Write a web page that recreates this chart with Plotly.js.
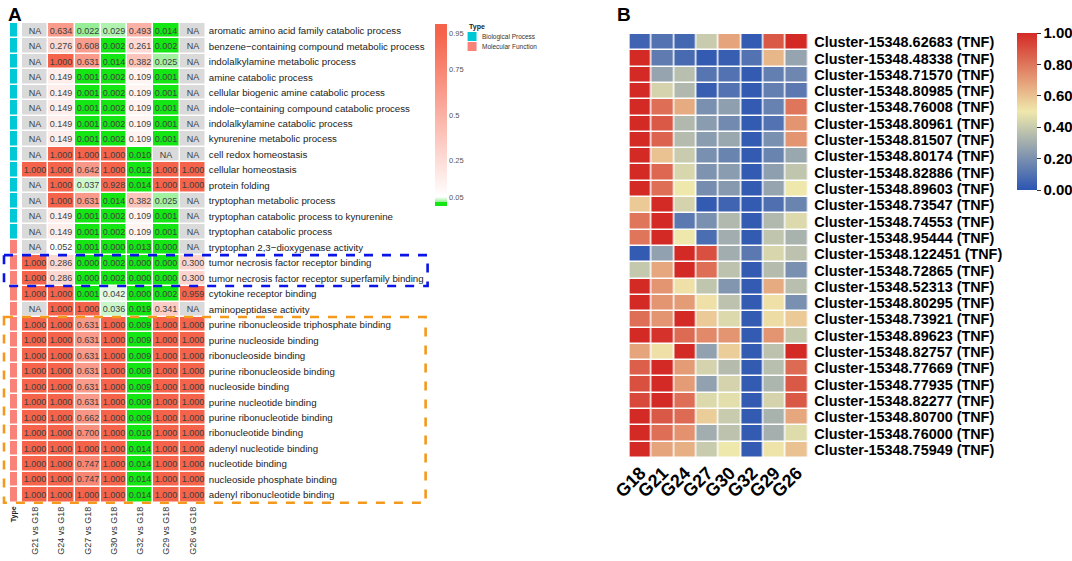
<!DOCTYPE html>
<html>
<head>
<meta charset="utf-8">
<script src="https://cdn.plot.ly/plotly-3.0.1.min.js"></script>
<style>html,body{margin:0;padding:0;background:#fff;}#chart{width:1072px;height:561px;}</style>
</head>
<body>
<div id="chart"></div>
<script>
// ---------- Panel A data ----------
const termsA = [
  "aromatic amino acid family catabolic process",
  "benzene−containing compound metabolic process",
  "indolalkylamine metabolic process",
  "amine catabolic process",
  "cellular biogenic amine catabolic process",
  "indole−containing compound catabolic process",
  "indolalkylamine catabolic process",
  "kynurenine metabolic process",
  "cell redox homeostasis",
  "cellular homeostasis",
  "protein folding",
  "tryptophan metabolic process",
  "tryptophan catabolic process to kynurenine",
  "tryptophan catabolic process",
  "tryptophan 2,3−dioxygenase activity",
  "tumor necrosis factor receptor binding",
  "tumor necrosis factor receptor superfamily binding",
  "cytokine receptor binding",
  "aminopeptidase activity",
  "purine ribonucleoside triphosphate binding",
  "purine nucleoside binding",
  "ribonucleoside binding",
  "purine ribonucleoside binding",
  "nucleoside binding",
  "purine nucleotide binding",
  "purine ribonucleotide binding",
  "ribonucleotide binding",
  "adenyl nucleotide binding",
  "nucleotide binding",
  "nucleoside phosphate binding",
  "adenyl ribonucleotide binding"
];
// 0 = Biological Process, 1 = Molecular Function
const typeA = [0,0,0,0,0,0,0,0,0,0,0,0,0,0,1,1,1,1,1,1,1,1,1,1,1,1,1,1,1,1,1];
const comparisonsA = ["G21 vs G18","G24 vs G18","G27 vs G18","G30 vs G18","G32 vs G18","G29 vs G18","G26 vs G18"];
const N = null;
const G21vsG18 = [N,N,N,N,N,N,N,N,N,1.000,N,N,N,N,N,1.000,1.000,1.000,N,1,1,1,1,1,1,1,1,1,1,1,1];
const G24vsG18 = [0.634,0.276,1.000,0.149,0.149,0.149,0.149,0.149,1.000,1.000,1.000,1.000,0.149,0.149,0.052,0.286,0.286,1.000,1.000,1,1,1,1,1,1,1,1,1,1,1,1];
const G27vsG18 = [0.022,0.608,0.631,0.001,0.001,0.001,0.001,0.001,1.000,0.642,0.037,0.631,0.001,0.001,0.001,0.000,0.000,0.001,1.000,0.631,0.631,0.631,0.631,0.631,0.631,0.662,0.700,1.000,0.747,0.747,1.000];
const G30vsG18 = [0.029,0.002,0.014,0.002,0.002,0.002,0.002,0.002,1.000,1.000,0.928,0.014,0.002,0.002,0.000,0.002,0.002,0.042,0.036,1,1,1,1,1,1,1,1,1,1,1,1];
const G32vsG18 = [0.493,0.261,0.382,0.109,0.109,0.109,0.109,0.109,0.010,0.012,0.014,0.382,0.109,0.109,0.013,0.000,0.000,0.000,0.019,0.009,0.009,0.009,0.009,0.009,0.009,0.009,0.010,0.014,0.014,0.014,0.014];
const G29vsG18 = [0.014,0.002,0.025,0.001,0.001,0.001,0.001,0.001,N,1.000,1.000,0.025,0.001,0.001,0.000,0.000,0.000,0.002,0.341,1,1,1,1,1,1,1,1,1,1,1,1];
const G26vsG18 = [N,N,N,N,N,N,N,N,N,1.000,1.000,N,N,N,N,0.300,0.300,0.959,N,1,1,1,1,1,1,1,1,1,1,1,1];
const colsA = [G21vsG18,G24vsG18,G27vsG18,G30vsG18,G32vsG18,G29vsG18,G26vsG18];
const colorTicksA = [0.05,0.25,0.5,0.75,0.95];
const colorTickTextA = ["0.05","0.25","0.5","0.75","0.95"];

// ---------- Panel B data ----------
const clustersB = [
  "Cluster-15348.62683 (TNF)","Cluster-15348.48338 (TNF)","Cluster-15348.71570 (TNF)","Cluster-15348.80985 (TNF)",
  "Cluster-15348.76008 (TNF)","Cluster-15348.80961 (TNF)","Cluster-15348.81507 (TNF)","Cluster-15348.80174 (TNF)",
  "Cluster-15348.82886 (TNF)","Cluster-15348.89603 (TNF)","Cluster-15348.73547 (TNF)","Cluster-15348.74553 (TNF)",
  "Cluster-15348.95444 (TNF)","Cluster-15348.122451 (TNF)","Cluster-15348.72865 (TNF)","Cluster-15348.52313 (TNF)",
  "Cluster-15348.80295 (TNF)","Cluster-15348.73921 (TNF)","Cluster-15348.89623 (TNF)","Cluster-15348.82757 (TNF)",
  "Cluster-15348.77669 (TNF)","Cluster-15348.77935 (TNF)","Cluster-15348.82277 (TNF)","Cluster-15348.80700 (TNF)",
  "Cluster-15348.76000 (TNF)","Cluster-15348.75949 (TNF)"
];
const groupsB = ["G18","G21","G24","G27","G30","G32","G29","G26"];
const G18 = [0.05,1.00,1.00,1.00,1.00,1.00,1.00,1.00,1.00,1.00,0.58,0.80,0.80,0.02,0.39,1.00,1.00,0.82,1.00,0.68,0.86,0.90,0.92,1.00,1.00,1.00];
const G21 = [0.10,0.13,0.27,0.43,0.82,0.88,0.85,0.60,0.84,0.82,1.00,1.00,1.00,0.26,0.67,0.72,0.72,0.72,0.98,0.52,1.00,1.00,1.00,0.88,0.82,0.68];
const G24 = [0.06,0.07,0.36,0.34,0.66,0.34,0.35,0.40,0.44,0.50,0.43,0.12,0.50,1.00,1.00,0.52,0.70,1.00,0.83,1.00,0.70,0.70,0.82,0.83,0.73,0.65];
const G27 = [0.40,0.02,0.11,0.03,0.20,0.24,0.24,0.20,0.21,0.19,0.02,0.20,0.08,0.90,0.82,0.38,0.52,0.58,0.75,0.26,0.43,0.26,0.45,0.57,0.30,0.40];
const G30 = [0.68,0.03,0.10,0.10,0.25,0.18,0.28,0.16,0.24,0.23,0.05,0.34,0.30,0.30,0.37,0.22,0.37,0.45,0.72,0.57,0.35,0.43,0.47,0.40,0.37,0.50];
const G32 = [0.02,0.10,0.02,0.02,0.02,0.02,0.02,0.02,0.02,0.02,0.02,0.02,0.02,0.12,0.02,0.02,0.02,0.02,0.02,0.02,0.02,0.02,0.02,0.02,0.02,0.02];
const G29 = [0.88,0.63,0.14,0.14,0.15,0.10,0.20,0.16,0.25,0.27,0.09,0.34,0.38,0.44,0.35,0.66,0.52,0.53,0.72,0.37,0.36,0.33,0.43,0.32,0.31,0.51];
const G26 = [1.00,0.27,0.17,0.12,0.80,0.72,0.72,0.28,0.38,0.50,0.16,0.45,0.32,0.37,0.20,0.36,0.20,0.58,0.39,1.00,0.83,0.88,0.88,0.67,0.46,0.60];
const colsB = [G18,G21,G24,G27,G30,G32,G29,G26];
const colorTicksB = [0,0.2,0.4,0.6,0.8,1.0];
const colorTickTextB = ["0.00","0.20","0.40","0.60","0.80","1.00"];

// ---------- helpers ----------
const W = 1072, H = 561;
const px = x => x / W;
const py = y => 1 - y / H;
const FONT = "Liberation Sans, Arial, sans-serif";

const zA = termsA.map((t,i) => colsA.map(c => c[i]));
const textA = termsA.map((t,i) => colsA.map(c => c[i] === null ? "" : c[i].toFixed(3)));
const zNA = termsA.map((t,i) => colsA.map(c => c[i] === null ? 1 : null));
const textNA = termsA.map((t,i) => colsA.map(c => c[i] === null ? "NA" : ""));
const zType = typeA.map(v => [v]);
const zB = clustersB.map((t,i) => colsB.map(c => c[i]));

const traces = [
  { type:"heatmap", x:["Type"], y:termsA, z:zType, xaxis:"x2", yaxis:"y",
    colorscale:[[0,"#00C8D6"],[0.5,"#00C8D6"],[0.5,"#F98378"],[1,"#F98378"]],
    zmin:0, zmax:1, showscale:false, ygap:1.5, hoverinfo:"skip" },
  { type:"heatmap", x:comparisonsA, y:termsA, z:zNA, text:textNA, texttemplate:"%{text}",
    textfont:{size:9, color:"#404040", family:FONT},
    xaxis:"x", yaxis:"y", colorscale:[[0,"#DADADA"],[1,"#DADADA"]], showscale:false,
    xgap:1.5, ygap:1.5, hoverinfo:"skip" },
  { type:"heatmap", x:comparisonsA, y:termsA, z:zA, text:textA, texttemplate:"%{text}",
    textfont:{size:9, color:"#404040", family:FONT},
    xaxis:"x", yaxis:"y", zmin:0, zmax:1,
    colorscale:[[0,"#14E614"],[0.0199,"#14E614"],[0.02,"#8EEE8E"],[0.05,"#FFFFFF"],[0.95,"#F5634A"],[1,"#F5634A"]],
    xgap:1.5, ygap:1.5, hoverinfo:"skip",
    colorbar:{x:px(435), xanchor:"left", y:py(24), yanchor:"top", len:182/H, lenmode:"fraction",
      thickness:12, thicknessmode:"pixels", outlinewidth:0, xpad:0, ypad:0, bgcolor:"rgba(0,0,0,0)",
      tickvals:colorTicksA, ticktext:colorTickTextA, ticks:"", ticklabelposition:"outside",
      tickfont:{size:7.5, color:"#555", family:FONT}} },
  { type:"heatmap", x:groupsB, y:clustersB, z:zB, xaxis:"x3", yaxis:"y3", zmin:0, zmax:1,
    colorscale:[[0,"#2C55B2"],[0.5,"#EFE8AC"],[1,"#D42A26"]],
    xgap:1.5, ygap:1.5, hoverinfo:"skip",
    colorbar:{x:px(1017), xanchor:"left", y:py(33), yanchor:"top", len:157/H, lenmode:"fraction",
      thickness:20, thicknessmode:"pixels", outlinewidth:0, xpad:0, ypad:0, bgcolor:"rgba(0,0,0,0)",
      tickvals:colorTicksB, ticktext:colorTickTextB, ticks:"outside", ticklen:4, tickcolor:"#333",
      tickfont:{size:15, color:"#000", family:FONT, weight:"bold"}} }
];

const axCommon = {showgrid:false, zeroline:false, showline:false, ticks:"", fixedrange:true};
const layout = {
  width:W, height:H, margin:{l:0,r:0,t:0,b:0}, paper_bgcolor:"#fff", plot_bgcolor:"rgba(0,0,0,0)",
  font:{family:FONT},
  xaxis: Object.assign({}, axCommon, {domain:[px(22), px(206)], anchor:"y", tickangle:-90,
    tickmode:"array", tickvals:comparisonsA,
    tickfont:{size:9, color:"#333", family:FONT}}),
  xaxis2: Object.assign({}, axCommon, {domain:[px(10), px(17.5)], anchor:"y", tickangle:-90,
    tickfont:{size:7, color:"#222", family:FONT, weight:"bold"}}),
  yaxis: Object.assign({}, axCommon, {domain:[py(504), py(23)], anchor:"x", side:"right",
    autorange:"reversed", tickmode:"array", tickvals:termsA,
    tickfont:{size:9.7, color:"#222", family:FONT}, ticklabelstandoff:2}),
  xaxis3: Object.assign({}, axCommon, {domain:[px(630), px(809)], anchor:"y3", tickangle:-45,
    tickmode:"array", tickvals:groupsB,
    tickfont:{size:18, color:"#000", family:FONT, weight:"bold"}}),
  yaxis3: Object.assign({}, axCommon, {domain:[py(458), py(34)], anchor:"x3", side:"right",
    autorange:"reversed", tickmode:"array", tickvals:clustersB,
    tickfont:{size:14.4, color:"#000", family:FONT, weight:"bold"}, ticklabelstandoff:5}),
  shapes:[
    {type:"rect", xref:"paper", yref:"y", x0:px(4), x1:px(428), y0:14.5, y1:16.5,
      line:{color:"#0A14E6", width:2.6, dash:"dash"}},
    {type:"rect", xref:"paper", yref:"y", x0:px(4), x1:px(426), y0:18.5, y1:30.5,
      line:{color:"#F39A1E", width:2.6, dash:"dash"}},
    {type:"rect", xref:"paper", yref:"paper", x0:px(468), x1:px(477), y0:py(41), y1:py(32),
      fillcolor:"#00C8D6", line:{width:0}},
    {type:"rect", xref:"paper", yref:"paper", x0:px(468), x1:px(477), y0:py(51), y1:py(42),
      fillcolor:"#F98378", line:{width:0}},
    {type:"line", xref:"paper", yref:"paper", x0:px(1037), x1:px(1037), y0:py(190), y1:py(33),
      line:{color:"#333", width:1}}
  ],
  annotations:[
    {text:"<b>A</b>", xref:"paper", yref:"paper", x:px(6), y:py(2), xanchor:"left", yanchor:"top",
      showarrow:false, font:{size:19, color:"#000", family:FONT}},
    {text:"<b>B</b>", xref:"paper", yref:"paper", x:px(616), y:py(2), xanchor:"left", yanchor:"top",
      showarrow:false, font:{size:19, color:"#000", family:FONT}},
    {text:"<b>Type</b>", xref:"paper", yref:"paper", x:px(467), y:py(27), xanchor:"left", yanchor:"middle",
      showarrow:false, font:{size:7, color:"#222", family:FONT}},
    {text:"Biological Process", xref:"paper", yref:"paper", x:px(480), y:py(36.5), xanchor:"left", yanchor:"middle",
      showarrow:false, font:{size:6.5, color:"#333", family:FONT}},
    {text:"Molecular Function", xref:"paper", yref:"paper", x:px(480), y:py(46.5), xanchor:"left", yanchor:"middle",
      showarrow:false, font:{size:6.5, color:"#333", family:FONT}}
  ]
};

Plotly.newPlot("chart", traces, layout, {displayModeBar:false, staticPlot:true});
</script>
</body>
</html>
